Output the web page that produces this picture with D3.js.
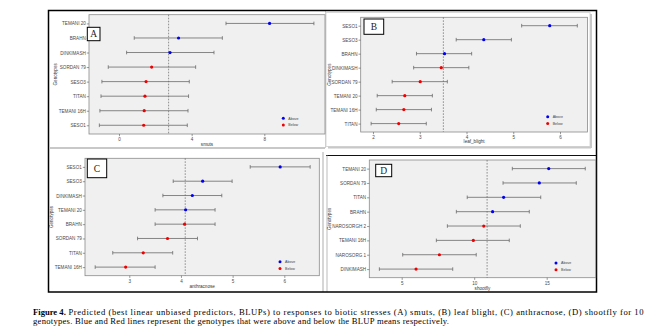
<!DOCTYPE html>
<html>
<head>
<meta charset="utf-8">
<script src="https://cdn.jsdelivr.net/npm/d3@7"></script>
<style>
  html, body { margin: 0; padding: 0; background: #fff; }
  svg { display: block; }
</style>
</head>
<body>
<svg id="chart" width="649" height="331"></svg>
<script>
// ---------- DATA ----------
// Panel A: smuts
const genotypesA = ["TEMANI 20","BRAHN","DINKIMASH","SORDAN 79","SESO3","TITAN","TEMANI 16H","SESO1"];
const blupA  = [8.29, 3.28, 2.81, 1.80, 1.49, 1.43, 1.39, 1.36];
const lowerA = [5.89, 0.84, 0.42, -0.59, -0.94, -0.99, -1.05, -1.08];
const upperA = [10.73, 5.69, 5.23, 4.22, 3.87, 3.83, 3.80, 3.76];
const groupA = ["Above","Above","Above","Below","Below","Below","Below","Below"];
const ticksA = [0, 4, 8];

// Panel B: leaf blight
const genotypesB = ["SESO1","SESO3","BRAHN","DINKIMASH","SORDAN 79","TEMANI 20","TEMANI 16H","TITAN"];
const blupB  = [5.78, 4.37, 3.53, 3.46, 3.01, 2.68, 2.66, 2.55];
const lowerB = [5.18, 3.78, 2.93, 2.87, 2.41, 2.09, 2.07, 1.96];
const upperB = [6.37, 4.96, 4.11, 4.05, 3.59, 3.27, 3.25, 3.14];
const groupB = ["Above","Above","Above","Below","Below","Below","Below","Below"];
const ticksB = [2, 3, 4, 5, 6];

// Panel C: anthracnose
const genotypesC = ["SESO1","SESO3","DINKIMASH","TEMANI 20","BRAHN","SORDAN 79","TITAN","TEMANI 16H"];
const blupC  = [5.92, 4.42, 4.22, 4.09, 4.07, 3.74, 3.27, 2.93];
const lowerC = [5.34, 3.85, 3.65, 3.50, 3.50, 3.16, 2.68, 2.34];
const upperC = [6.50, 4.99, 4.79, 4.66, 4.66, 4.32, 3.84, 3.50];
const groupC = ["Above","Above","Above","Above","Below","Below","Below","Below"];
const ticksC = [3, 4, 5, 6];

// Panel D: shootfly
const genotypesD = ["TEMANI 20","SORDAN 79","TITAN","BRAHN","NAROSORGH 2","TEMANI 16H","NAROSORG 1","DINKIMASH"];
const blupD  = [15.14, 14.49, 12.03, 11.27, 10.66, 9.94, 7.60, 5.99];
const lowerD = [12.63, 11.99, 9.52, 8.77, 8.15, 7.39, 5.07, 3.46];
const upperD = [17.66, 17.04, 14.59, 13.80, 13.18, 12.42, 10.14, 8.52];
const groupD = ["Above","Above","Above","Above","Below","Below","Below","Below"];
const ticksD = [5, 10, 15];

const legendLabels = ["Above", "Below"];
const groupColors = ["#0000ee", "#ee0000"];

const captionBold = "Figure 4.";
const captionLine1 = " Predicted (best linear unbiased predictors, BLUPs) to responses to biotic stresses (A) smuts, (B) leaf blight, (C) anthracnose, (D) shootfly for 10";
const captionLine2 = "genotypes. Blue and Red lines represent the genotypes that were above and below the BLUP means respectively.";

// ---------- DRAW ----------
const svg = d3.select("#chart");
svg.append("rect").attr("width", 649).attr("height", 331).attr("fill", "#fff");

// panel image frames / shadows
const frames = svg.append("g");
frames.append("rect").attr("x", 326).attr("y", 12.5).attr("width", 264).attr("height", 134)
  .attr("fill", "#fff").attr("stroke", "#d8d8d8").attr("stroke-width", 1);
frames.append("line").attr("x1", 591).attr("x2", 591).attr("y1", 14).attr("y2", 148).attr("stroke", "#c8c8c8").attr("stroke-width", 2);
frames.append("line").attr("x1", 328).attr("x2", 591).attr("y1", 147.5).attr("y2", 147.5).attr("stroke", "#c8c8c8").attr("stroke-width", 2);
frames.append("line").attr("x1", 50).attr("x2", 325).attr("y1", 148).attr("y2", 148).attr("stroke", "#c8c8c8").attr("stroke-width", 2);
frames.append("line").attr("x1", 325.5).attr("x2", 325.5).attr("y1", 11).attr("y2", 148).attr("stroke", "#d0d0d0").attr("stroke-width", 1);
frames.append("line").attr("x1", 323).attr("x2", 323).attr("y1", 152).attr("y2", 292).attr("stroke", "#c8c8c8").attr("stroke-width", 1.5);
frames.append("line").attr("x1", 326).attr("x2", 597).attr("y1", 155.5).attr("y2", 155.5).attr("stroke", "#111").attr("stroke-width", 1.2);
frames.append("line").attr("x1", 327).attr("x2", 327).attr("y1", 155.5).attr("y2", 292).attr("stroke", "#bbb").attr("stroke-width", 1);
frames.append("rect").attr("x", 48.5).attr("y", 10.5).attr("width", 548).attr("height", 281.5)
  .attr("fill", "none").attr("stroke", "#000").attr("stroke-width", 1.5);

function drawPanel(cfg) {
  const g = svg.append("g");
  const n = cfg.genotypes.length;
  const x = d3.scaleLinear().domain(cfg.domain).range([cfg.left, cfg.right]);
  const y = d3.scalePoint().domain(cfg.genotypes).range([cfg.top, cfg.bottom]).padding(0.6);

  g.append("rect").attr("x", cfg.left).attr("y", cfg.top)
    .attr("width", cfg.right - cfg.left).attr("height", cfg.bottom - cfg.top)
    .attr("fill", "#f0f0f0").attr("stroke", "#8a8a8a").attr("stroke-width", 0.8);

  g.append("line").attr("x1", x(cfg.mean)).attr("x2", x(cfg.mean))
    .attr("y1", cfg.top).attr("y2", cfg.bottom)
    .attr("stroke", "#666").attr("stroke-width", 0.7).attr("stroke-dasharray", "1.6,1.4");

  const rows = d3.range(n).map(i => ({
    name: cfg.genotypes[i], v: cfg.blup[i], lo: cfg.lower[i], hi: cfg.upper[i], grp: cfg.group[i]
  }));
  const eb = g.append("g").attr("stroke", "#6a6a6a").attr("stroke-width", 0.8);
  rows.forEach(r => {
    const yy = y(r.name);
    eb.append("line").attr("x1", x(r.lo)).attr("x2", x(r.hi)).attr("y1", yy).attr("y2", yy);
    eb.append("line").attr("x1", x(r.lo)).attr("x2", x(r.lo)).attr("y1", yy - 1.8).attr("y2", yy + 1.8);
    eb.append("line").attr("x1", x(r.hi)).attr("x2", x(r.hi)).attr("y1", yy - 1.8).attr("y2", yy + 1.8);
  });
  g.selectAll("circle.pt").data(rows).enter().append("circle")
    .attr("cx", d => x(d.v)).attr("cy", d => y(d.name)).attr("r", 1.6)
    .attr("fill", d => groupColors[legendLabels.indexOf(d.grp)]);

  const ya = g.append("g").attr("transform", `translate(${cfg.left},0)`)
    .call(d3.axisLeft(y).tickSize(2.2).tickPadding(1));
  ya.select(".domain").remove();
  ya.selectAll("line").attr("stroke", "#555").attr("stroke-width", 0.6);
  ya.selectAll("text").attr("font-family", "Liberation Sans, Arial, sans-serif")
    .attr("font-size", 4.6).attr("fill", "#4a4a4a");

  const xa = g.append("g").attr("transform", `translate(0,${cfg.bottom})`)
    .call(d3.axisBottom(x).tickValues(cfg.ticks).tickFormat(d3.format("d")).tickSize(2.2).tickPadding(1.5));
  xa.select(".domain").remove();
  xa.selectAll("line").attr("stroke", "#555").attr("stroke-width", 0.6);
  xa.selectAll("text").attr("font-family", "Liberation Sans, Arial, sans-serif")
    .attr("font-size", 4.6).attr("fill", "#4a4a4a");

  g.append("text").attr("x", (cfg.left + cfg.right) / 2).attr("y", cfg.bottom + cfg.xTitleOff)
    .attr("text-anchor", "middle").attr("font-family", "Liberation Sans, Arial, sans-serif")
    .attr("font-size", 4.6).attr("fill", "#333").text(cfg.xTitle);
  g.append("text")
    .attr("transform", `translate(${cfg.yTitleX},${(cfg.top + cfg.bottom) / 2}) rotate(-90)`)
    .attr("text-anchor", "middle").attr("font-family", "Liberation Sans, Arial, sans-serif")
    .attr("font-size", 4.6).attr("fill", "#333").text("Genotypes");

  legendLabels.forEach((lab, i) => {
    g.append("circle").attr("cx", cfg.legX).attr("cy", cfg.legY + i * 6.7).attr("r", 1.5)
      .attr("fill", groupColors[i]);
    g.append("text").attr("x", cfg.legX + 5).attr("y", cfg.legY + i * 6.7 + 1.2)
      .attr("font-family", "Liberation Sans, Arial, sans-serif").attr("font-size", 3.6)
      .attr("fill", "#444").text(lab);
  });

  g.append("rect").attr("x", cfg.box[0]).attr("y", cfg.box[1]).attr("width", cfg.box[2]).attr("height", cfg.box[3])
    .attr("fill", "#fff").attr("stroke", "#000").attr("stroke-width", 1);
  g.append("text").attr("x", cfg.box[0] + cfg.box[2] / 2).attr("y", cfg.box[1] + cfg.box[3] / 2 + 3.2)
    .attr("text-anchor", "middle").attr("font-family", "Liberation Serif, Times New Roman, serif")
    .attr("font-size", 9.5).attr("fill", "#222").text(cfg.letter);
}

drawPanel({ genotypes: genotypesA, blup: blupA, lower: lowerA, upper: upperA, group: groupA, ticks: ticksA,
  mean: d3.mean(blupA), domain: [-1.65, 11.34], left: 89, right: 325, top: 14.7, bottom: 134,
  xTitle: "smuts", xTitleOff: 11.5, yTitleX: 57, legX: 283.3, legY: 118.3, box: [87.3, 27.3, 12.7, 13.4], letter: "A" });
drawPanel({ genotypes: genotypesB, blup: blupB, lower: lowerB, upper: upperB, group: groupB, ticks: ticksB,
  mean: d3.mean(blupB), domain: [1.737, 6.588], left: 360.7, right: 587.5, top: 17.3, bottom: 132,
  xTitle: "leaf_blight", xTitleOff: 10.5, yTitleX: 330.5, legX: 547.7, legY: 116.7, box: [364, 19, 19.7, 15.3], letter: "B" });
drawPanel({ genotypes: genotypesC, blup: blupC, lower: lowerC, upper: upperC, group: groupC, ticks: ticksC,
  mean: d3.mean(blupC), domain: [2.143, 6.677], left: 85, right: 319.3, top: 158.3, bottom: 275.7,
  xTitle: "anthracnose", xTitleOff: 12.5, yTitleX: 53, legX: 280, legY: 261.7, box: [87.3, 159, 19.4, 18.7], letter: "C" });
drawPanel({ genotypes: genotypesD, blup: blupD, lower: lowerD, upper: upperD, group: groupD, ticks: ticksD,
  mean: d3.mean(blupD), domain: [2.766, 18.38], left: 369.3, right: 595.7, top: 160, bottom: 277.7,
  xTitle: "shootfly", xTitleOff: 12.3, yTitleX: 330.8, legX: 556, legY: 263, box: [375.7, 164.3, 16, 12.4], letter: "D" });

const cap = svg.append("g").attr("font-family", "Liberation Serif, Times New Roman, serif").attr("font-size", 8.6).attr("fill", "#000");
const b = cap.append("text").attr("x", 33).attr("y", 315).attr("font-weight", "bold").text(captionBold);
const bw = b.node().getComputedTextLength();
cap.append("text").attr("x", 33 + bw).attr("y", 315).attr("xml:space", "preserve")
  .attr("textLength", 643.5 - 33 - bw).attr("lengthAdjust", "spacing").text(captionLine1);
cap.append("text").attr("x", 33).attr("y", 324.3)
  .attr("textLength", 449 - 33).attr("lengthAdjust", "spacing").text(captionLine2);
</script>
</body>
</html>
